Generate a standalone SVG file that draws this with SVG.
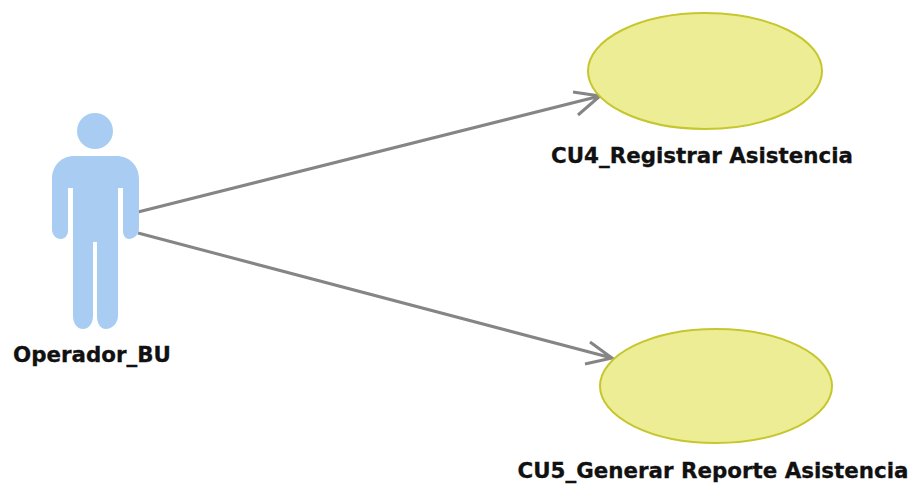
<svg xmlns="http://www.w3.org/2000/svg" width="912" height="486" viewBox="0 0 912 486">
<style>
.uc{fill:#eded95;stroke:#c6c62e;stroke-width:2}
.lbl{font-family:"DejaVu Sans",sans-serif;font-weight:bold;font-size:21.4px;fill:#111;stroke:#111;stroke-width:.3;text-anchor:middle}
.conn{fill:none;stroke:#858585;stroke-width:3}
.actor{fill:#a9cdf2}
</style>
<rect width="912" height="486" fill="#fff"/>
<g id="connectors">
<path class="conn" d="M138 212L600 96M573 92L600 96L578 115"/>
<path class="conn" d="M138 233L612 358M590 342L612 358L585 364"/>
</g>
<g id="actor">
<circle class="actor" cx="95" cy="131" r="18"/>
<path class="actor" d="M74 156H116C130 156 139 166 139 179V229C139 235 133 239 129 239C125 239 123 235 123 231V188H118V316C118 323 112 329 106 329C100 329 97 323 97 316V242H93V316C93 323 89 329 83 329C77 329 73 323 73 316V188H68V231C68 235 65 239 61 239C56 239 52 235 52 229V179C52 166 61 156 74 156Z"/>
<text class="lbl" x="92" y="362">Operador_BU</text>
</g>
<g id="cu4">
<ellipse class="uc" cx="705" cy="71" rx="117" ry="58"/>
<text class="lbl" x="702" y="163">CU4_Registrar Asistencia</text>
</g>
<g id="cu5">
<ellipse class="uc" cx="716" cy="386" rx="116" ry="57"/>
<text class="lbl" x="713" y="478">CU5_Generar Reporte Asistencia</text>
</g>
</svg>
